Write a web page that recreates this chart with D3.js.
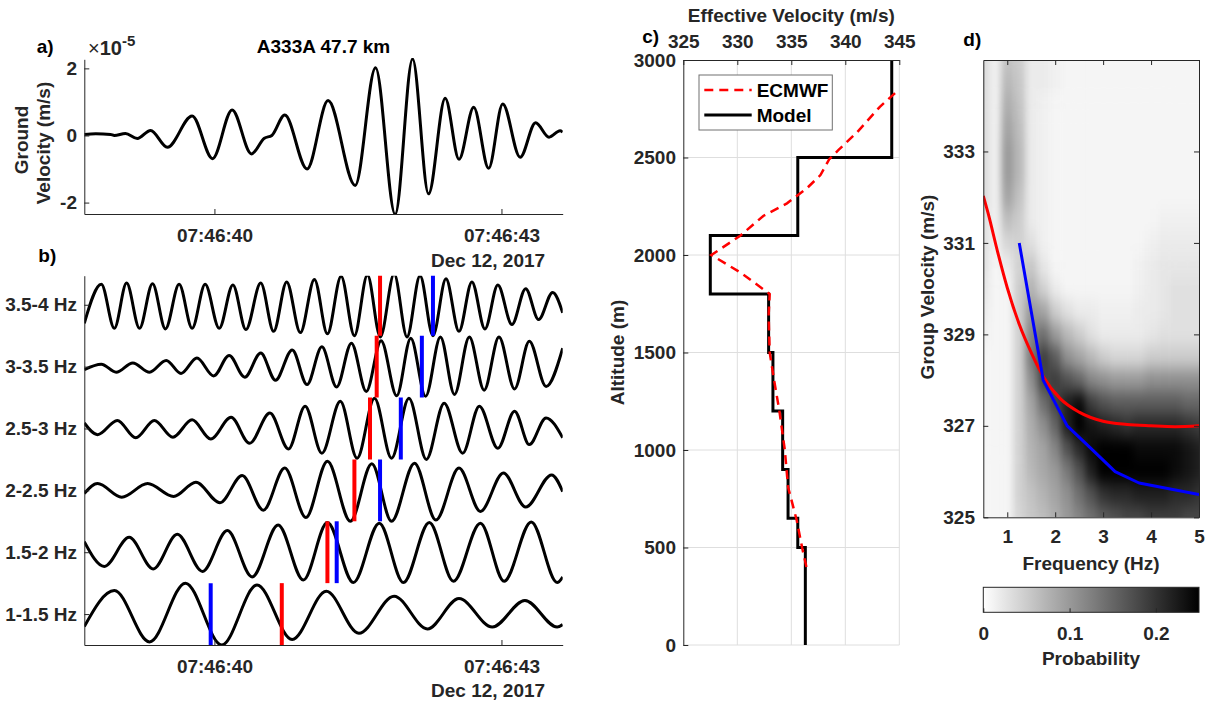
<!DOCTYPE html>
<html><head><meta charset="utf-8">
<script src="https://cdn.jsdelivr.net/npm/d3@7"></script>
<style>
body{margin:0;background:#fff}
svg text{font-family:"Liberation Sans",Arial,Helvetica,sans-serif;font-weight:bold;font-size:19px;fill:#262626}
</style></head><body>
<svg id="chart" width="1207" height="704"></svg>
<script>
// ---------------- DATA ----------------
// panel a: ground velocity (x1e-5 m/s) vs seconds after 07:46:00
const waveA = [[38.64,0.03],[38.76,0.05],[38.915,0.03],[38.954,0.0],[39.07,0.06],[39.194,-0.09],[39.333,0.15],[39.508,-0.35],[39.767,0.58],[39.98,-0.69],[40.185,0.76],[40.387,-0.55],[40.522,-0.08],[40.6,0.0],[40.735,0.61],[40.968,-1.0],[41.188,1.04],[41.471,-1.49],[41.684,2.02],[41.889,-2.35],[42.071,2.28],[42.238,-1.74],[42.412,1.11],[42.556,-0.71],[42.71,0.84],[42.866,-0.98],[43.013,0.94],[43.195,-0.65],[43.357,0.38],[43.497,-0.05],[43.613,0.14],[43.64,0.10]];
const ticksA = [-2, 0, 2];
const timeTicks = [40, 43];

// panel b: band-passed traces (normalised amplitude)
const bandNames = ["1-1.5 Hz","1.5-2 Hz","2-2.5 Hz","2.5-3 Hz","3-3.5 Hz","3.5-4 Hz"];
const trace1 = [[38.64,-0.2],[38.954,0.38],[39.322,-0.45],[39.697,0.5],[40.077,-0.5],[40.445,0.47],[40.813,-0.41],[41.169,0.37],[41.51,-0.31],[41.878,0.29],[42.226,-0.24],[42.556,0.25],[42.904,-0.21],[43.245,0.22],[43.582,-0.21],[43.64,-0.17]];
const trace2 = [[38.64,0.17],[38.849,-0.23],[39.109,0.24],[39.36,-0.27],[39.612,0.29],[39.875,-0.31],[40.135,0.35],[40.394,-0.4],[40.666,0.44],[40.929,-0.45],[41.181,0.48],[41.452,-0.49],[41.723,0.47],[41.975,-0.49],[42.246,0.48],[42.498,-0.47],[42.78,0.47],[43.028,-0.47],[43.311,0.49],[43.582,-0.49],[43.64,-0.4]];
const trace3 = [[38.64,-0.05],[38.779,0.11],[39.031,-0.11],[39.302,0.11],[39.573,-0.1],[39.806,0.13],[40.058,-0.2],[40.29,0.24],[40.511,-0.32],[40.735,0.36],[40.956,-0.44],[41.181,0.47],[41.421,-0.5],[41.645,0.43],[41.851,-0.5],[42.091,0.44],[42.315,-0.48],[42.556,0.36],[42.78,-0.34],[43.02,0.28],[43.253,-0.27],[43.524,0.25],[43.64,-0.02]];
const trace4 = [[38.64,0.09],[38.779,-0.1],[38.985,0.13],[39.178,-0.15],[39.372,0.13],[39.566,-0.14],[39.767,0.14],[39.961,-0.17],[40.174,0.18],[40.367,-0.24],[40.58,0.25],[40.774,-0.33],[40.948,0.36],[41.123,-0.4],[41.316,0.44],[41.491,-0.48],[41.673,0.49],[41.851,-0.48],[42.033,0.49],[42.215,-0.5],[42.401,0.41],[42.594,-0.4],[42.769,0.36],[42.962,-0.32],[43.137,0.28],[43.291,-0.26],[43.466,0.17],[43.64,-0.15]];
const trace5 = [[38.64,-0.05],[38.818,0.04],[38.973,-0.09],[39.147,0.06],[39.322,-0.09],[39.496,0.1],[39.651,-0.11],[39.817,0.14],[39.992,-0.15],[40.154,0.18],[40.317,-0.17],[40.484,0.22],[40.638,-0.22],[40.813,0.27],[40.968,-0.29],[41.123,0.32],[41.277,-0.33],[41.432,0.38],[41.587,-0.4],[41.742,0.42],[41.905,-0.47],[42.052,0.46],[42.207,-0.48],[42.362,0.48],[42.509,-0.45],[42.664,0.48],[42.819,-0.38],[42.974,0.48],[43.137,-0.36],[43.291,0.41],[43.466,-0.32],[43.64,0.3]];
const trace6 = [[38.64,-0.3],[38.818,0.33],[38.954,-0.38],[39.082,0.35],[39.217,-0.38],[39.353,0.34],[39.488,-0.39],[39.631,0.33],[39.767,-0.38],[39.903,0.33],[40.05,-0.38],[40.193,0.32],[40.329,-0.4],[40.484,0.35],[40.619,-0.43],[40.755,0.37],[40.898,-0.45],[41.045,0.41],[41.181,-0.47],[41.324,0.46],[41.463,-0.5],[41.599,0.48],[41.734,-0.52],[41.878,0.5],[42.013,-0.52],[42.149,0.47],[42.284,-0.5],[42.42,0.42],[42.556,-0.43],[42.691,0.37],[42.827,-0.39],[42.962,0.32],[43.109,-0.32],[43.253,0.26],[43.388,-0.24],[43.535,0.2],[43.64,-0.13]];
const bandTraces = [trace1, trace2, trace3, trace4, trace5, trace6];
const arrivalRed  = [40.704, 41.181, 41.463, 41.626, 41.696, 41.731];
const arrivalBlue = [39.961, 41.278, 41.731, 41.948, 42.168, 42.284];

// panel c: effective velocity profiles
const layerBottom = [0, 500, 650, 900, 1200, 1500, 1800, 2100, 2500];
const layerTop    = [500, 650, 900, 1200, 1500, 1800, 2100, 2500, 3000];
const modelVel    = [336.3, 335.6, 334.7, 334.2, 333.3, 332.9, 327.5, 335.6, 344.3];
const ecmwfAlt = [400, 500, 640, 810, 1000, 1200, 1360, 1500, 1690, 1800, 1910, 2000, 2100, 2200, 2265, 2340, 2410, 2490, 2540, 2630, 2760, 2850];
const ecmwfVel = [336.4, 336.0, 335.5, 334.7, 334.4, 333.9, 333.4, 333.0, 332.9, 333.0, 330.3, 327.6, 330.3, 332.4, 334.6, 336.4, 337.7, 338.5, 339.4, 341.1, 343.2, 345.0];
const velTicks = [325, 330, 335, 340, 345];
const altTicks = [0, 500, 1000, 1500, 2000, 2500, 3000];

// panel d: probability of group velocity vs frequency
const freqCols = [0.5,0.75,1.0,1.25,1.5,1.75,2.0,2.25,2.5,2.75,3.0,3.25,3.5,3.75,4.0,4.25,4.5,4.75,5.0];
const velRows = [335,334.5,334,333.5,333,332.5,332,331.5,331,330.5,330,329.5,329,328.5,328,327.5,327,326.5,326,325.5,325];
const probGrid = [
 [.035,.015,.06,.05,.02,.02,.015,.01,.01,.01,.01,.01,.01,.01,.01,.01,.01,.01,.01],
 [.035,.015,.07,.055,.02,.02,.015,.01,.01,.01,.01,.01,.01,.01,.01,.01,.01,.01,.01],
 [.035,.015,.08,.06,.02,.015,.01,.01,.01,.01,.01,.01,.01,.01,.01,.01,.01,.01,.01],
 [.035,.015,.09,.065,.02,.015,.01,.01,.01,.01,.01,.01,.01,.01,.01,.01,.01,.01,.01],
 [.035,.015,.10,.07,.02,.015,.01,.01,.01,.01,.01,.01,.01,.01,.01,.01,.01,.01,.01],
 [.035,.015,.10,.07,.02,.015,.01,.01,.01,.01,.01,.01,.01,.01,.01,.01,.01,.01,.01],
 [.035,.015,.09,.06,.02,.015,.01,.01,.01,.01,.01,.01,.01,.01,.01,.01,.01,.01,.01],
 [.03,.015,.065,.05,.02,.015,.01,.01,.01,.01,.01,.01,.01,.01,.01,.015,.015,.015,.015],
 [.03,.015,.04,.045,.03,.015,.01,.01,.01,.01,.01,.01,.01,.01,.015,.02,.02,.02,.02],
 [.03,.01,.02,.045,.055,.025,.01,.01,.01,.01,.01,.01,.01,.015,.02,.025,.025,.025,.025],
 [.025,.01,.01,.05,.075,.045,.02,.01,.01,.01,.01,.01,.01,.015,.02,.025,.03,.03,.03],
 [.02,.01,.01,.05,.10,.09,.05,.03,.02,.02,.015,.015,.015,.02,.02,.025,.03,.03,.03],
 [.015,.01,.01,.045,.12,.14,.10,.07,.05,.03,.02,.02,.02,.02,.025,.03,.03,.03,.03],
 [.01,.01,.01,.045,.13,.19,.16,.11,.09,.07,.05,.04,.04,.04,.05,.05,.05,.05,.05],
 [.01,.01,.01,.045,.11,.18,.19,.17,.15,.12,.11,.10,.10,.10,.11,.11,.11,.11,.11],
 [.01,.01,.01,.045,.09,.14,.18,.22,.24,.19,.17,.16,.16,.16,.16,.16,.16,.15,.15],
 [.01,.01,.01,.045,.08,.11,.15,.22,.25,.23,.22,.21,.20,.21,.21,.21,.21,.20,.19],
 [.01,.01,.01,.045,.075,.09,.12,.17,.21,.24,.25,.25,.25,.24,.24,.24,.24,.23,.22],
 [.01,.01,.01,.045,.07,.085,.10,.13,.17,.22,.25,.25,.25,.25,.25,.25,.24,.23,.22],
 [.01,.01,.01,.045,.06,.075,.09,.11,.14,.17,.20,.21,.21,.22,.22,.22,.21,.21,.20],
 [.01,.01,.01,.04,.055,.065,.08,.10,.12,.14,.16,.17,.18,.18,.19,.19,.19,.18,.18]
];
const modelDispersion = [[0.5,332.03],[0.6,331.65],[0.8,330.8],[1.0,330.02],[1.25,329.22],[1.5,328.6],[1.75,328.08],[2.1,327.6],[2.5,327.3],[3.0,327.1],[3.5,327.03],[4.0,327.0],[4.5,326.98],[5.0,327.0]];
const measuredDispersion = [[1.25,331.0],[1.75,328.0],[2.25,327.0],[2.75,326.5],[3.25,326.0],[3.75,325.75],[5.0,325.5]];
const freqTicks = [1, 2, 3, 4, 5];
const gvTicks = [325, 327, 329, 331, 333];
const probTicks = [0, 0.1, 0.2];

// ---------------- DRAWING ----------------
const svg = d3.select("#chart");
const AX = "#262626";
const T0 = Date.UTC(2017, 11, 12, 7, 46, 0);
const toDate = s => new Date(T0 + s * 1000);
const fmtTime = d3.utcFormat("%H:%M:%S");
const defs = svg.append("defs");

function styleAxis(g) {
  g.selectAll("path,line").attr("stroke", AX).attr("stroke-width", 1);
  g.selectAll("text").attr("fill", AX);
}
function label(x, y, txt, opts = {}) {
  const t = svg.append("text").attr("x", x).attr("y", y).text(txt)
    .attr("text-anchor", opts.anchor || "middle");
  if (opts.rot) t.attr("transform", `rotate(-90,${x},${y})`);
  if (opts.fill) t.style("fill", opts.fill);
  return t;
}

// ---- Panel a ----
const xA = d3.scaleUtc().domain([toDate(38.64), toDate(43.64)]).range([84.3, 562.7]);
const yA = d3.scaleLinear().domain([-2.34, 2.27]).range([214, 59.3]);
defs.append("clipPath").attr("id", "clipA").append("rect")
  .attr("x", 84.3).attr("y", 58).attr("width", 478.4).attr("height", 157);
svg.append("path").datum(waveA).attr("clip-path", "url(#clipA)")
  .attr("fill", "none").attr("stroke", "#000").attr("stroke-width", 3)
  .attr("stroke-linejoin", "round")
  .attr("d", d3.line().x(d => xA(toDate(d[0]))).y(d => yA(d[1])).curve(d3.curveMonotoneX));
svg.append("g").attr("transform", "translate(0,214)")
  .call(d3.axisBottom(xA).tickValues(timeTicks.map(toDate)).tickFormat(fmtTime)
    .tickSizeInner(-5).tickSizeOuter(0).tickPadding(14.2)).call(styleAxis);
svg.append("g").attr("transform", "translate(84.3,0)")
  .call(d3.axisLeft(yA).tickValues(ticksA).tickFormat(d => String(d))
    .tickSizeInner(-5).tickSizeOuter(0).tickPadding(7.3)).call(styleAxis);
label(36.7, 53, "a)", {anchor: "start", fill: "#000"});
const exp = svg.append("text").attr("x", 88).attr("y", 55).attr("text-anchor", "start");
exp.append("tspan").text("×").style("font-weight", "normal").style("font-size", "20px");
exp.append("tspan").text("10").style("font-size", "20px");
exp.append("tspan").text("-5").attr("dy", -9).style("font-size", "15px");
label(323.5, 53, "A333A 47.7 km", {fill: "#000"});
label(27.5, 140, "Ground", {rot: true});
label(50, 143, "Velocity (m/s)", {rot: true});
label(431, 267, "Dec 12, 2017", {anchor: "start"});

// ---- Panel b ----
const xB = xA.copy();
const yB = d3.scaleLinear().domain([-0.5, 5.47]).range([645, 275.7]);
defs.append("clipPath").attr("id", "clipB").append("rect")
  .attr("x", 84.3).attr("y", 275.7).attr("width", 478.4).attr("height", 369.3);
const gB = svg.append("g").attr("clip-path", "url(#clipB)");
bandTraces.forEach((tr, k) => {
  gB.append("path").datum(tr).attr("fill", "none").attr("stroke", "#000")
    .attr("stroke-width", 3).attr("stroke-linejoin", "round")
    .attr("d", d3.line().x(d => xB(toDate(d[0]))).y(d => yB(k + d[1])).curve(d3.curveMonotoneX));
});
const markers = [];
bandNames.forEach((n, k) => {
  markers.push({k, t: arrivalRed[k], c: "#ff0000"});
  markers.push({k, t: arrivalBlue[k], c: "#0000ff"});
});
gB.selectAll("line.mk").data(markers).join("line").attr("class", "mk")
  .attr("x1", d => xB(toDate(d.t))).attr("x2", d => xB(toDate(d.t)))
  .attr("y1", d => yB(d.k - 0.5)).attr("y2", d => yB(d.k + 0.5))
  .attr("stroke", d => d.c).attr("stroke-width", 4);
svg.append("g").attr("transform", "translate(0,645)")
  .call(d3.axisBottom(xB).tickValues(timeTicks.map(toDate)).tickFormat(fmtTime)
    .tickSizeInner(-5).tickSizeOuter(0).tickPadding(14.2)).call(styleAxis);
svg.append("g").attr("transform", "translate(84.3,0)")
  .call(d3.axisLeft(yB).tickValues(d3.range(bandNames.length)).tickFormat(i => bandNames[i])
    .tickSizeInner(-5).tickSizeOuter(0).tickPadding(7.3)).call(styleAxis);
label(38.3, 262, "b)", {anchor: "start", fill: "#000"});
label(431, 697, "Dec 12, 2017", {anchor: "start"});

// ---- Panel c ----
const xC = d3.scaleLinear().domain([325, 345]).range([683.3, 899.3]);
const yC = d3.scaleLinear().domain([0, 3000]).range([645, 60]);
const gC = svg.append("g");
gC.selectAll("line.gx").data(velTicks.slice(1)).join("line").attr("class", "gx")
  .attr("x1", d => xC(d)).attr("x2", d => xC(d)).attr("y1", yC(0)).attr("y2", yC(3000))
  .attr("stroke", "#dedede").attr("stroke-width", 1);
gC.selectAll("line.gy").data(altTicks.slice(0, -1)).join("line").attr("class", "gy")
  .attr("x1", xC(325)).attr("x2", xC(345)).attr("y1", d => yC(d)).attr("y2", d => yC(d))
  .attr("stroke", "#dedede").attr("stroke-width", 1);
defs.append("clipPath").attr("id", "clipC").append("rect")
  .attr("x", 683.3).attr("y", 60).attr("width", 216).attr("height", 585);
const modelPts = [];
modelVel.forEach((v, i) => { modelPts.push([v, layerBottom[i]]); modelPts.push([v, layerTop[i]]); });
gC.append("path").datum(modelPts).attr("clip-path", "url(#clipC)")
  .attr("fill", "none").attr("stroke", "#000").attr("stroke-width", 3)
  .attr("d", d3.line().x(d => xC(d[0])).y(d => yC(d[1])));
gC.append("path").datum(ecmwfAlt.map((a, i) => [ecmwfVel[i], a])).attr("clip-path", "url(#clipC)")
  .attr("fill", "none").attr("stroke", "#ff0000").attr("stroke-width", 2.5)
  .attr("stroke-dasharray", "9,6")
  .attr("d", d3.line().x(d => xC(d[0])).y(d => yC(d[1])));
svg.append("g").attr("transform", "translate(0,60)")
  .call(d3.axisTop(xC).tickValues(velTicks).tickFormat(d3.format("d"))
    .tickSizeInner(-5).tickSizeOuter(0).tickPadding(11.7)).call(styleAxis);
svg.append("g").attr("transform", "translate(683.3,0)")
  .call(d3.axisLeft(yC).tickValues(altTicks).tickFormat(d3.format("d"))
    .tickSizeInner(-5).tickSizeOuter(0).tickPadding(7.3)).call(styleAxis);
// legend
const lg = svg.append("g");
lg.append("rect").attr("x", 699).attr("y", 75).attr("width", 133.3).attr("height", 55)
  .attr("fill", "#fff").attr("stroke", "#707070").attr("stroke-width", 1);
lg.append("line").attr("x1", 704.3).attr("x2", 751.7).attr("y1", 90).attr("y2", 90)
  .attr("stroke", "#ff0000").attr("stroke-width", 2.5).attr("stroke-dasharray", "9,6");
lg.append("line").attr("x1", 704.3).attr("x2", 751.7).attr("y1", 115).attr("y2", 115)
  .attr("stroke", "#000").attr("stroke-width", 3);
lg.append("text").attr("x", 756.7).attr("y", 97).text("ECMWF").style("fill", "#000");
lg.append("text").attr("x", 756.7).attr("y", 122).text("Model").style("fill", "#000");
label(642.3, 43, "c)", {anchor: "start", fill: "#000"});
label(791.3, 22, "Effective Velocity (m/s)");
label(623.6, 352.5, "Altitude (m)", {rot: true});

// ---- Panel d ----
const xD = d3.scaleLinear().domain([0.5, 5]).range([983.3, 1199]);
const yD = d3.scaleLinear().domain([325, 335]).range([517.3, 60]);
const colorP = d3.scaleLinear().domain([0, 0.25]).range(["#ffffff", "#000000"]).clamp(true);
defs.append("clipPath").attr("id", "clipD").append("rect")
  .attr("x", 983.3).attr("y", 60).attr("width", 215.7).attr("height", 457.3);
const flt = defs.append("filter").attr("id", "smooth").attr("filterUnits", "userSpaceOnUse")
  .attr("x", 960).attr("y", 40).attr("width", 260).attr("height", 500)
  .attr("color-interpolation-filters", "sRGB");
flt.append("feGaussianBlur").attr("stdDeviation", "3.5 8");
flt.append("feComponentTransfer").append("feFuncA").attr("type", "table").attr("tableValues", "1 1");
const cells = [];
velRows.forEach((v, r) => freqCols.forEach((f, c) => cells.push({f, v, p: probGrid[r][c]})));
const gDclip = svg.append("g").attr("clip-path", "url(#clipD)");
gDclip.append("g").attr("filter", "url(#smooth)")
  .selectAll("rect").data(cells).join("rect")
  .attr("x", d => xD(d.f - 0.125)).attr("width", d => xD(d.f + 0.125) - xD(d.f - 0.125) + 0.5)
  .attr("y", d => yD(d.v + 0.25)).attr("height", d => yD(d.v - 0.25) - yD(d.v + 0.25) + 0.5)
  .attr("fill", d => colorP(d.p));
gDclip.append("path").datum(modelDispersion).attr("fill", "none").attr("stroke", "#ff0000")
  .attr("stroke-width", 3).attr("d", d3.line().x(d => xD(d[0])).y(d => yD(d[1])).curve(d3.curveMonotoneX));
gDclip.append("path").datum(measuredDispersion).attr("fill", "none").attr("stroke", "#0000ff")
  .attr("stroke-width", 3).attr("stroke-linejoin", "round")
  .attr("d", d3.line().x(d => xD(d[0])).y(d => yD(d[1])));
svg.append("g").attr("transform", "translate(0,517.3)")
  .call(d3.axisBottom(xD).tickValues(freqTicks).tickFormat(d3.format("d"))
    .tickSizeInner(-5).tickSizeOuter(0).tickPadding(12.5)).call(styleAxis);
svg.append("g").attr("transform", "translate(0,60)")
  .call(d3.axisTop(xD).tickValues(freqTicks).tickFormat("")
    .tickSizeInner(-5).tickSizeOuter(0)).call(styleAxis);
svg.append("g").attr("transform", "translate(983.3,0)")
  .call(d3.axisLeft(yD).tickValues(gvTicks).tickFormat(d3.format("d"))
    .tickSizeInner(-5).tickSizeOuter(0).tickPadding(8.3)).call(styleAxis);
svg.append("g").attr("transform", "translate(1199,0)")
  .call(d3.axisRight(yD).tickValues(gvTicks).tickFormat("")
    .tickSizeInner(-5).tickSizeOuter(0)).call(styleAxis);
label(963.3, 46, "d)", {anchor: "start", fill: "#000"});
label(933.6, 287, "Group Velocity (m/s)", {rot: true});
label(1091, 569.6, "Frequency (Hz)");
// colorbar
const xCB = d3.scaleLinear().domain([0, 0.25]).range([983.3, 1199]);
const grad = defs.append("linearGradient").attr("id", "cbGrad");
d3.range(0, 1.0001, 0.1).forEach(o => grad.append("stop").attr("offset", o)
  .attr("stop-color", colorP(xCB.invert(983.3 + o * 215.7))));
svg.append("rect").attr("x", 983.3).attr("y", 587.3).attr("width", 215.7).attr("height", 25)
  .attr("fill", "url(#cbGrad)").attr("stroke", AX).attr("stroke-width", 1);
svg.append("g").attr("transform", "translate(0,612.3)")
  .call(d3.axisBottom(xCB).tickValues(probTicks).tickFormat(d => d === 0 ? "0" : d3.format(".1f")(d))
    .tickSizeInner(-4).tickSizeOuter(0).tickPadding(14.2)).call(styleAxis)
  .call(g => g.select(".domain").remove());
label(1091, 665.3, "Probability");
</script></body></html>
